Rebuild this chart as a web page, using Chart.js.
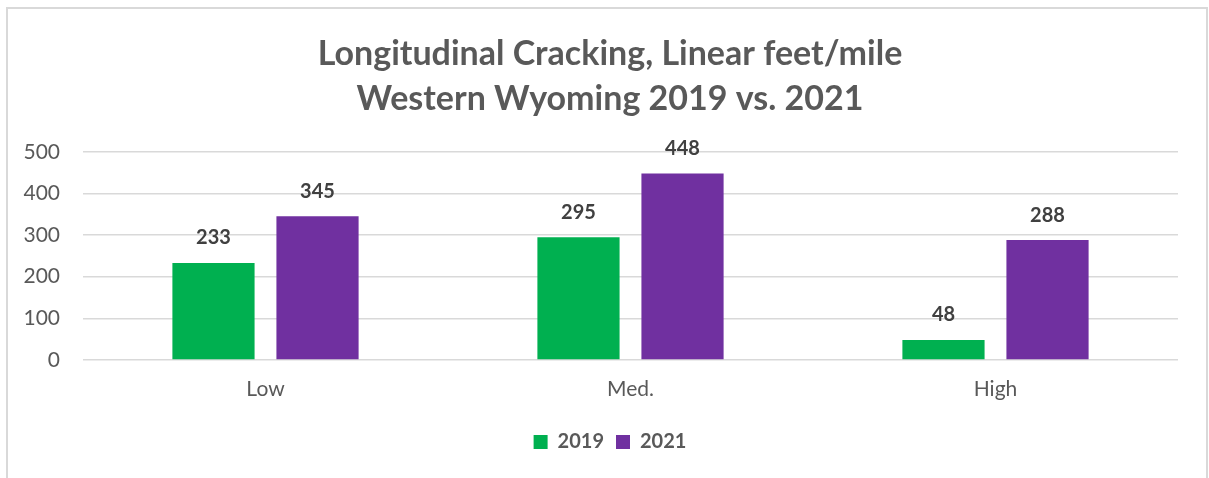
<!DOCTYPE html>
<html>
<head>
<meta charset="utf-8">
<script src="https://cdn.jsdelivr.net/npm/chart.js@4/dist/chart.umd.min.js"></script>
<style>
  html, body { margin: 0; padding: 0; background: #fff; }
  #wrap { width: 1209px; height: 478px; position: relative; }
</style>
</head>
<body>
<div id="wrap"><canvas id="myChart" width="1209" height="478"></canvas></div>
<script>
// categories along the x-axis
var categories = ["Low", "Med.", "High"];
// series values
var y2019 = [233, 295, 48];
var y2021 = [345, 448, 288];
var seriesNames = ["2019", "2021"];
var titleLines = ["Longitudinal Cracking, Linear feet/mile", "Western Wyoming 2019 vs. 2021"];

var FONT = "Lato, 'Open Sans', sans-serif";

// light grey frame round the whole chart
var framePlugin = {
    id: "frame",
    beforeDraw: function (chart) {
        var c = chart.ctx;
        c.save();
        c.fillStyle = "#fff";
        c.fillRect(0, 0, chart.width, chart.height);
        c.strokeStyle = "#d9d9d9";
        c.lineWidth = 2;
        c.beginPath();
        c.moveTo(7, chart.height + 2);
        c.lineTo(7, 8);
        c.lineTo(1207, 8);
        c.lineTo(1207, chart.height + 2);
        c.stroke();
        c.restore();
    }
};

// title and legend are centred on the whole frame, not on the plot
var recentre = {
    id: "recentre",
    afterLayout: function (chart) {
        [chart.titleBlock, chart.legend].forEach(function (b) {
            if (!b) return;
            b.left += 21;
            b.right += 21;
        });
    }
};

// value labels above each bar
var valueLabels = {
    id: "valueLabels",
    afterDatasetsDraw: function (chart) {
        var c = chart.ctx;
        c.save();
        c.font = "bold 20px " + FONT;
        c.fillStyle = "#404040";
        c.textAlign = "center";
        c.textBaseline = "middle";
        chart.data.datasets.forEach(function (ds, i) {
            chart.getDatasetMeta(i).data.forEach(function (bar, j) {
                c.fillText(ds.data[j], bar.x, bar.y - 25);
            });
        });
        c.restore();
    }
};

var ctx = document.getElementById("myChart");
var myChart = new Chart(ctx, {
    type: "bar",
    data: {
        labels: categories,
        datasets: [
            {
                label: seriesNames[0],
                data: y2019,
                backgroundColor: "#00b050"
            },
            {
                label: seriesNames[1],
                data: y2021,
                backgroundColor: "#7030a0"
            }
        ]
    },
    options: {
        responsive: false,
        animation: false,
        layout: { padding: { top: 32, right: 31, bottom: 16, left: 0 } },
        datasets: {
            bar: { categoryPercentage: 0.57, barPercentage: 0.79 }
        },
        plugins: {
            title: {
                display: true,
                text: titleLines,
                color: "#595959",
                font: { family: FONT, size: 34, weight: "bold", lineHeight: 1.32 },
                padding: { top: 0, bottom: 30 }
            },
            legend: {
                position: "bottom",
                labels: {
                    boxWidth: 14,
                    boxHeight: 14,
                    padding: 12,
                    color: "#595959",
                    font: { family: FONT, size: 20, weight: "bold" }
                }
            },
            tooltip: { enabled: false }
        },
        scales: {
            x: {
                grid: { display: false, drawTicks: false },
                border: { display: false },
                ticks: {
                    color: "#595959",
                    padding: 17,
                    font: { family: FONT, size: 21 }
                },
                afterFit: function (s) { s.height = 60; }
            },
            y: {
                min: 0,
                max: 500,
                grid: { color: "#d9d9d9", lineWidth: 1.5, drawTicks: false },
                border: { display: false },
                ticks: {
                    stepSize: 100,
                    color: "#595959",
                    padding: 23,
                    font: { family: FONT, size: 21 }
                },
                afterFit: function (s) { s.width = 83; }
            }
        }
    },
    plugins: [framePlugin, recentre, valueLabels]
});
</script>
</body>
</html>
